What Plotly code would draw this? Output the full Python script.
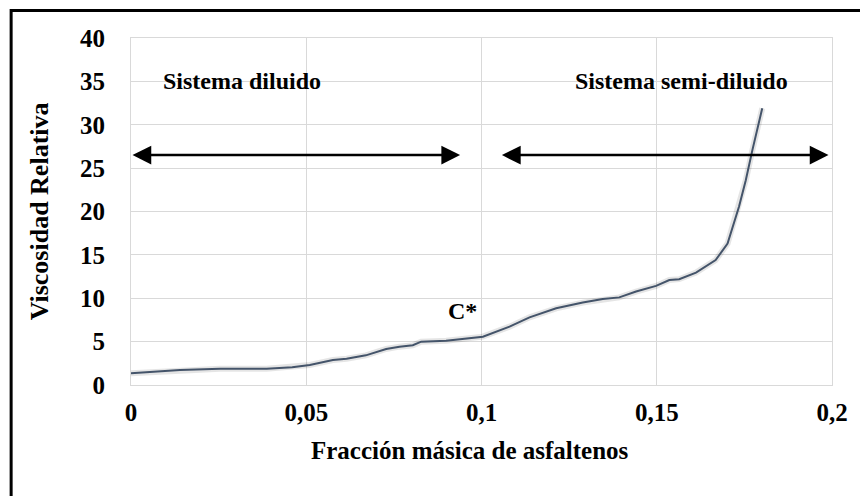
import plotly.graph_objects as go

# Data
fraccion = [0.0, 0.014, 0.0254, 0.0387, 0.046, 0.051, 0.0576, 0.0615, 0.067, 0.0728,
            0.0766, 0.0804, 0.0828, 0.0899, 0.1004, 0.108, 0.1137, 0.1213, 0.1289,
            0.1346, 0.1393, 0.1441, 0.1498, 0.1536, 0.1564, 0.1612, 0.1668, 0.1702,
            0.1735, 0.1754, 0.1773, 0.1792, 0.1801]
viscosidad = [1.35, 1.73, 1.88, 1.88, 2.04, 2.3, 2.88, 3.03, 3.42, 4.15,
              4.42, 4.58, 5.0, 5.11, 5.57, 6.73, 7.8, 8.84, 9.5,
              9.92, 10.1, 10.77, 11.42, 12.1, 12.2, 12.96, 14.4, 16.3,
              20.6, 23.6, 27.1, 30.2, 31.9]

x_tickvals = [0, 0.05, 0.1, 0.15, 0.2]
x_ticktext = ["0", "0,05", "0,1", "0,15", "0,2"]
y_tickvals = [0, 5, 10, 15, 20, 25, 30, 35, 40]

region_labels = ["Sistema diluido", "Sistema semi-diluido"]
region_label_x = [0.0316, 0.157]
region_label_y = [35, 35]
arrow_x0 = [0.0, 0.1054]
arrow_x1 = [0.0939, 0.199]
arrow_y = 26.5
cstar_label = "C*"
cstar_x = 0.0946
cstar_y = 8.5

FONT = "Liberation Serif"
fs = 24

fig = go.Figure()
fig.add_trace(go.Scatter(x=fraccion, y=viscosidad, mode="lines",
                         line=dict(color="rgba(0,0,0,0.10)", width=6),
                         hoverinfo="skip", showlegend=False))
fig.add_trace(go.Scatter(x=fraccion, y=viscosidad, mode="lines",
                         line=dict(color="#44546A", width=2),
                         showlegend=False))

annotations = []
for t, xx, yy in zip(region_labels, region_label_x, region_label_y):
    annotations.append(dict(x=xx, y=yy, xref="x", yref="y", text=t, showarrow=False,
                            font=dict(family=FONT, size=fs, color="black", weight="bold")))
annotations.append(dict(x=cstar_x, y=cstar_y, xref="x", yref="y", text=cstar_label,
                        showarrow=False,
                        font=dict(family=FONT, size=fs, color="black", weight="bold")))
for a0, a1 in zip(arrow_x0, arrow_x1):
    annotations.append(dict(x=a1, y=arrow_y, ax=a0, ay=arrow_y, xref="x", yref="y",
                            axref="x", ayref="y", text="", showarrow=True,
                            arrowhead=2, startarrowhead=2, arrowside="end+start",
                            arrowsize=1.5, startarrowsize=1.5, arrowwidth=2.5,
                            arrowcolor="black", standoff=0, startstandoff=0))
# axis titles
annotations.append(dict(x=0.4836, y=-0.19, xref="paper", yref="paper",
                        text="Fracción másica de asfaltenos", showarrow=False,
                        xanchor="center", yanchor="middle",
                        font=dict(family=FONT, size=25, color="black", weight="bold")))
annotations.append(dict(x=-0.13, y=0.5, xref="paper", yref="paper",
                        text="Viscosidad Relativa", showarrow=False, textangle=-90,
                        xanchor="center", yanchor="middle",
                        font=dict(family=FONT, size=26, color="black", weight="bold")))

# page body has an 8px margin, so the figure is 8px smaller and shifted
fig.update_layout(
    width=860, height=488,
    margin=dict(l=123, r=36, t=30, b=111),
    paper_bgcolor="white", plot_bgcolor="white",
    annotations=annotations,
    shapes=[dict(type="rect", xref="paper", yref="paper",
                 x0=-0.171, x1=1.3, y0=-0.5, y1=1.079,
                 line=dict(color="black", width=3), layer="above")],
    xaxis=dict(range=[0, 0.2], tickvals=x_tickvals, ticktext=x_ticktext,
               showgrid=True, gridcolor="#d9d9d9", gridwidth=1,
               showline=True, linecolor="#d9d9d9", linewidth=1, mirror=True,
               zeroline=False, ticks="", ticklabelstandoff=5,
               tickfont=dict(family=FONT, size=25, color="black", weight="bold")),
    yaxis=dict(range=[0, 40], tickvals=y_tickvals,
               showgrid=True, gridcolor="#d9d9d9", gridwidth=1,
               showline=True, linecolor="#d9d9d9", linewidth=1, mirror=True,
               zeroline=False, ticks="", ticklabelstandoff=20,
               tickfont=dict(family=FONT, size=25, color="black", weight="bold")),
)

fig.write_html("out.html")
